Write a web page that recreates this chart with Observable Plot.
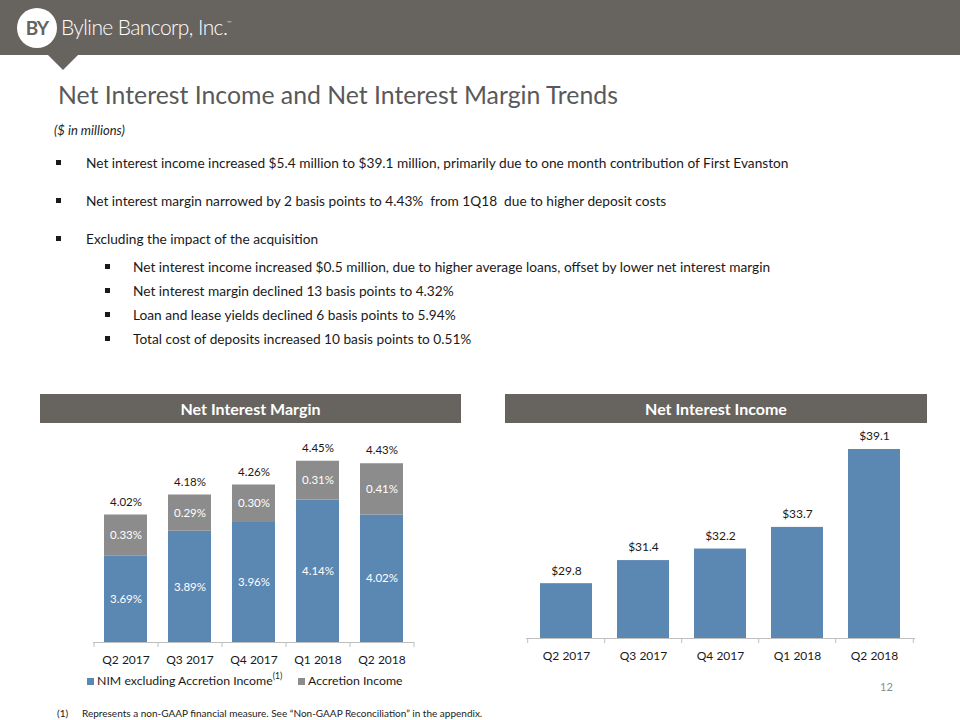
<!DOCTYPE html>
<html>
<head>
<meta charset="utf-8">
<script src="https://cdn.jsdelivr.net/npm/d3@7"></script>
<script src="https://cdn.jsdelivr.net/npm/@observablehq/plot@0.6"></script>
<style>
  html, body { margin: 0; padding: 0; background: #fff; }
  body { width: 960px; height: 720px; position: relative; overflow: hidden; font-family: Lato, "Open Sans", sans-serif; color: #1a1a1a; }
  .abs { position: absolute; }
  .band { left: 0; top: 0; width: 960px; height: 55px; background: #67645f; }
  .tri { left: 48px; top: 55px; width: 0; height: 0; border-left: 15px solid transparent; border-right: 15px solid transparent; border-top: 15px solid #67645f; }
  .logo { left: 17px; top: 8px; width: 40px; height: 40px; border-radius: 50%; background: #fff; color: #67645f; font-weight: 700; font-size: 19px; text-align: center; line-height: 40px; letter-spacing: -1px; }
  .brand { left: 61px; top: 13px; color: #fff; font-size: 21px; font-weight: 300; letter-spacing: -0.6px; line-height: 28px; white-space: nowrap; }
  .brand sup { font-size: 6px; vertical-align: 10px; line-height: 0; }
  .title { left: 58px; top: 79px; font-size: 24.8px; color: #595959; line-height: 32px; white-space: nowrap; }
  .sub { left: 54px; top: 121px; font-size: 13px; font-style: italic; color: #262626; line-height: 18px; }
  .bl { font-size: 13.7px; line-height: 18px; white-space: nowrap; color: #1a1a1a; }
  .sq { width: 5px; height: 5px; background: #1a1a1a; }
  .hdr { top: 394px; height: 29px; background: #67645f; color: #fff; font-weight: 700; font-size: 16px; line-height: 29px; text-align: center; }
  .legend { top: 672px; height: 18px; font-size: 12.3px; line-height: 18px; white-space: nowrap; color: #1a1a1a; }
  .lsq { display: inline-block; width: 7px; height: 7px; margin-right: 3px; vertical-align: 0px; }
  .legend sup { font-size: 8.5px; vertical-align: 6px; line-height: 0; }
  .page { left: 880px; top: 680px; font-size: 11px; color: #8c8c8c; }
  .foot { top: 707px; font-size: 10px; line-height: 12px; white-space: nowrap; color: #1a1a1a; }
</style>
</head>
<body>
<div class="abs band"></div>
<div class="abs tri"></div>
<div class="abs logo">BY</div>
<div class="abs brand">Byline Bancorp, Inc.<sup>™</sup></div>

<div class="abs title">Net Interest Income and Net Interest Margin Trends</div>
<div class="abs sub">($ in millions)</div>

<div id="bullets"></div>

<div class="abs hdr" style="left:40px;width:421px;">Net Interest Margin</div>
<div class="abs hdr" style="left:505px;width:422px;">Net Interest Income</div>

<div id="nim" class="abs" style="left:40px;top:425px;"></div>
<div id="nii" class="abs" style="left:505px;top:425px;"></div>

<div class="abs legend" style="left:87px;"><span class="lsq" style="background:#5b87b3"></span>NIM excluding Accretion Income<sup>(1)</sup></div>
<div class="abs legend" style="left:298px;"><span class="lsq" style="background:#8c8c8c"></span>Accretion Income</div>

<div class="abs page">12</div>
<div class="abs foot" style="left:57px;">(1)</div>
<div class="abs foot" style="left:82px;">Represents a non-GAAP financial measure. See “Non-GAAP Reconciliation” in the appendix.</div>

<script>
// ---- data ----
const quarters = ["Q2 2017", "Q3 2017", "Q4 2017", "Q1 2018", "Q2 2018"];
const nimExAccretion = [3.69, 3.89, 3.96, 4.14, 4.02];
const accretionIncome = [0.33, 0.29, 0.30, 0.31, 0.41];
const nimTotal = [4.02, 4.18, 4.26, 4.45, 4.43];
const netInterestIncome = [29.8, 31.4, 32.2, 33.7, 39.1];
const seriesNames = ["NIM excluding Accretion Income", "Accretion Income"];

const bulletsMain = [
  "Net interest income increased $5.4 million to $39.1 million, primarily due to one month contribution of First Evanston",
  "Net interest margin narrowed by 2 basis points to 4.43%  from 1Q18  due to higher deposit costs",
  "Excluding the impact of the acquisition"
];
const bulletsSub = [
  "Net interest income increased $0.5 million, due to higher average loans, offset by lower net interest margin",
  "Net interest margin declined 13 basis points to 4.32%",
  "Loan and lease yields declined 6 basis points to 5.94%",
  "Total cost of deposits increased 10 basis points to 0.51%"
];

// ---- bullets (layout) ----
const bEl = document.getElementById("bullets");
const mainY = [163, 201, 239];
const subY = [267, 291, 315, 339];
bulletsMain.forEach((t, i) => {
  bEl.insertAdjacentHTML("beforeend",
    `<div class="abs sq" style="left:56px;top:${mainY[i] - 3}px"></div>` +
    `<div class="abs bl" style="left:86px;top:${mainY[i] - 9}px">${t.replace(/  /g, "&nbsp; ")}</div>`);
});
bulletsSub.forEach((t, i) => {
  bEl.insertAdjacentHTML("beforeend",
    `<div class="abs sq" style="left:105px;top:${subY[i] - 3}px"></div>` +
    `<div class="abs bl" style="left:133px;top:${subY[i] - 9}px">${t}</div>`);
});

const blue = "#5b87b3", gray = "#8c8c8c", axisColor = "#bfbfbf";
const fmtPct = v => v.toFixed(2) + "%";

// ---- Net Interest Margin chart ----
const nimMin = 3.0, nimMax = 4.6;
const stackRows = [];
quarters.forEach((q, i) => {
  stackRows.push({q, series: seriesNames[0], v: nimExAccretion[i]});
  stackRows.push({q, series: seriesNames[1], v: accretionIncome[i]});
});
const nimRows = quarters.map((q, i) => ({q, nim: nimExAccretion[i], acc: accretionIncome[i], total: nimTotal[i]}));

const nimChart = Plot.plot({
  width: 430, height: 250,
  marginLeft: 53, marginRight: 57, marginTop: 17, marginBottom: 33,
  style: {fontFamily: "Lato, sans-serif", fontSize: "12px", color: "#1a1a1a", background: "transparent"},
  x: {domain: quarters, paddingInner: 0.33, paddingOuter: 0.165, label: null},
  y: {domain: [nimMin, nimMax], axis: null},
  color: {domain: seriesNames, range: [blue, gray]},
  marks: [
    Plot.barY(stackRows, {x: "q", y: "v", fill: "series", clip: true}),
    Plot.frame({anchor: "bottom", stroke: axisColor}),
    Plot.axisX({tickSize: 0, tickPadding: 13, label: null, fontSize: 12}),
    Plot.axisX(quarters, {tickSize: 5, dx: -32, tickFormat: () => "", stroke: axisColor, label: null}),
    Plot.axisX(quarters.slice(-1), {tickSize: 5, dx: 32, tickFormat: () => "", stroke: axisColor, label: null}),
    Plot.text(nimRows, {x: "q", y: d => (nimMin + d.nim) / 2, text: d => fmtPct(d.nim), fill: "white", fontSize: 11.5}),
    Plot.text(nimRows, {x: "q", y: d => d.nim + d.acc / 2, text: d => fmtPct(d.acc), fill: "white", fontSize: 11.5}),
    Plot.text(nimRows, {x: "q", y: "total", dy: -13, text: d => fmtPct(d.total), fill: "#1a1a1a", fontSize: 11.5})
  ]
});
document.getElementById("nim").append(nimChart);

// ---- Net Interest Income chart ----
const niiMin = 26, niiMax = 40;
const niiRows = quarters.map((q, i) => ({q, v: netInterestIncome[i]}));
const niiChart = Plot.plot({
  width: 430, height: 250,
  marginLeft: 21, marginRight: 21, marginTop: 11, marginBottom: 37,
  style: {fontFamily: "Lato, sans-serif", fontSize: "12px", color: "#1a1a1a", background: "transparent"},
  x: {domain: quarters, paddingInner: 0.32, paddingOuter: 0.16, label: null},
  y: {domain: [niiMin, niiMax], axis: null},
  marks: [
    Plot.barY(niiRows, {x: "q", y: "v", fill: blue, clip: true}),
    Plot.frame({anchor: "bottom", stroke: axisColor}),
    Plot.axisX({tickSize: 0, tickPadding: 13, label: null, fontSize: 12}),
    Plot.axisX(quarters, {tickSize: 5, dx: -38.8, tickFormat: () => "", stroke: axisColor, label: null}),
    Plot.axisX(quarters.slice(-1), {tickSize: 5, dx: 38.8, tickFormat: () => "", stroke: axisColor, label: null}),
    Plot.text(niiRows, {x: "q", y: "v", dy: -13, text: d => "$" + d.v.toFixed(1), fill: "#1a1a1a", fontSize: 12})
  ]
});
document.getElementById("nii").append(niiChart);
</script>
</body>
</html>
